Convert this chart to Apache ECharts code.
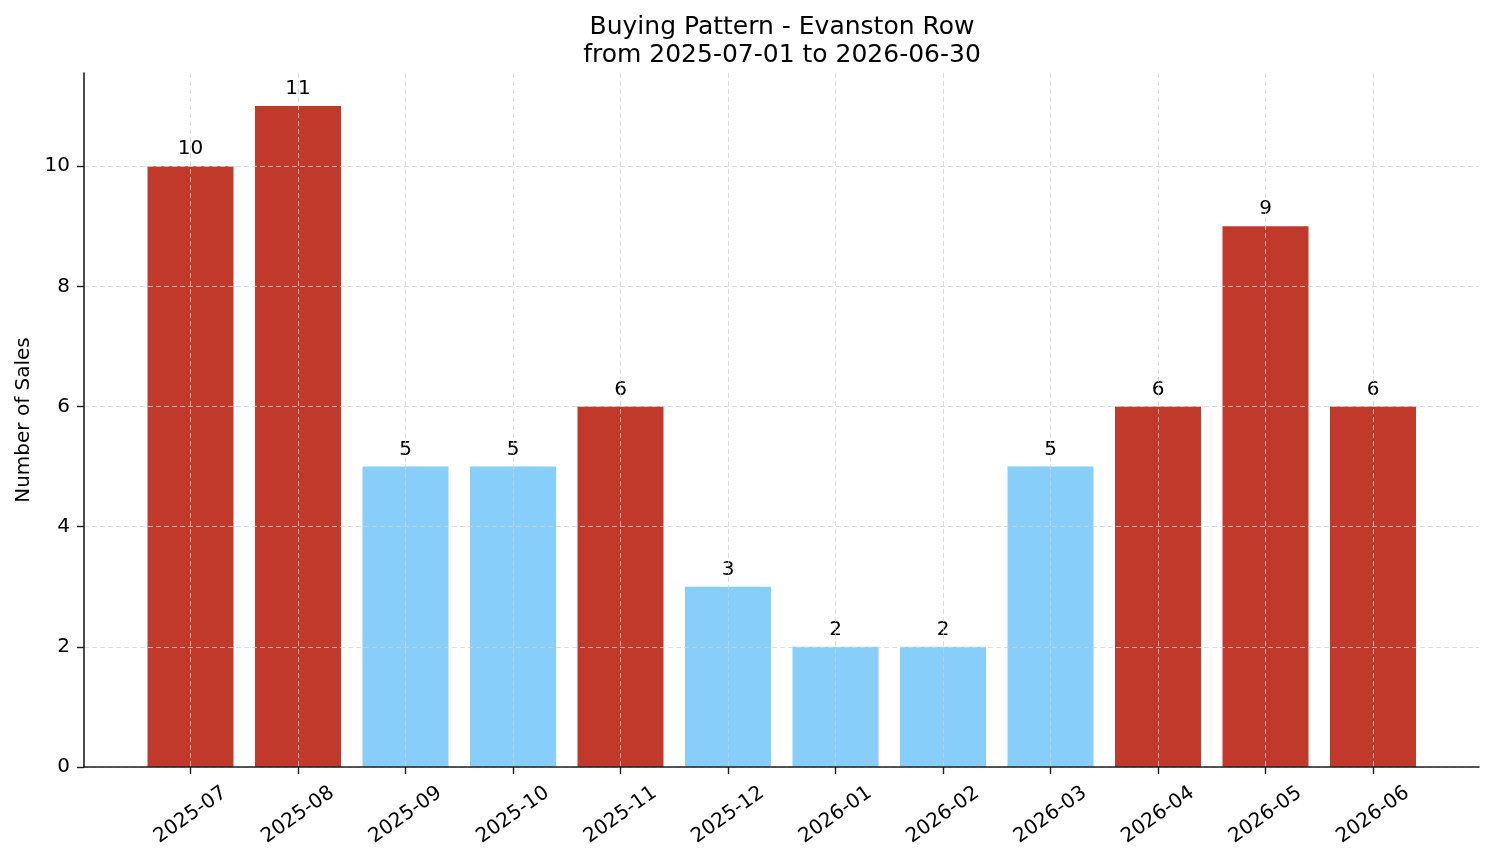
<!DOCTYPE html>
<html lang="en">
  <head>
    <meta charset="UTF-8" />
    <title>Buying Pattern - Evanston Row</title>
    <script src="https://cdn.jsdelivr.net/npm/echarts@6.0.0/dist/echarts.min.js"></script>
    <style>
      html,
      body {
        margin: 0;
        background: #fff;
      }
      #main {
        width: 1494px;
        height: 863px;
      }
    </style>
  </head>
  <body>
    <div id="main"></div>
    <script>
      const months = [
        "2025-07", "2025-08", "2025-09", "2025-10", "2025-11", "2025-12",
        "2026-01", "2026-02", "2026-03", "2026-04", "2026-05", "2026-06",
      ];
      const sales = [10, 11, 5, 5, 6, 3, 2, 2, 5, 6, 9, 6];
      const yTicks = [0, 2, 4, 6, 8, 10];
      const yMax = 11.55;

      const highColor = "#C0392B";
      const lowColor = "#87CEFA";
      const font = "DejaVu Sans";
      const axisColor = "#1f1f1f";
      const gridLine = {
        show: true,
        lineStyle: { color: "rgba(210,210,210,0.75)", width: 1, type: [5, 3] },
      };

      // bars above the average month are highlighted
      const avg = sales.reduce((a, b) => a + b, 0) / sales.length;

      const chart = echarts.init(document.getElementById("main"));
      chart.setOption({
        animation: false,
        textStyle: { fontFamily: font },
        title: {
          text: "Buying Pattern - Evanston Row\nfrom 2025-07-01 to 2026-06-30",
          left: 782,
          top: 13,
          padding: 0,
          textAlign: "center",
          textStyle: {
            fontFamily: font,
            fontSize: 25,
            fontWeight: "normal",
            lineHeight: 28,
            color: "#000",
          },
        },
        grid: [
          { left: 84, right: 15, top: 73, bottom: 96 },
          { left: 190.5, right: 121, top: 73, bottom: 96 },
        ],
        xAxis: [
          {
            gridIndex: 0,
            type: "value",
            min: 0,
            max: 1,
            z: 4,
            axisLine: { show: true, lineStyle: { color: axisColor, width: 1.6 } },
            axisTick: { show: false },
            axisLabel: { show: false },
            splitLine: { show: false },
          },
          {
            gridIndex: 1,
            type: "category",
            data: months,
            boundaryGap: false,
            z: 3,
            axisLine: { show: false },
            axisTick: {
              show: true,
              length: 7,
              interval: 0,
              lineStyle: { color: axisColor, width: 1.4 },
            },
            axisLabel: {
              interval: 0,
              rotate: 35,
              align: "center",
              verticalAlign: "middle",
              margin: 48,
              fontSize: 20,
              color: "#000",
              fontFamily: font,
            },
            splitLine: Object.assign({ interval: 0 }, gridLine),
          },
        ],
        yAxis: [
          {
            gridIndex: 0,
            type: "value",
            min: 0,
            max: yMax,
            z: 3,
            name: "Number of Sales",
            nameLocation: "middle",
            nameGap: 50,
            nameTextStyle: { fontSize: 20, color: "#000", fontFamily: font },
            axisLine: { show: true, lineStyle: { color: axisColor, width: 1.6 } },
            axisTick: {
              show: true,
              length: 7,
              customValues: yTicks,
              lineStyle: { color: axisColor, width: 1.4 },
            },
            axisLabel: {
              customValues: yTicks,
              margin: 14,
              fontSize: 20,
              color: "#000",
              fontFamily: font,
            },
            splitLine: gridLine,
          },
          {
            gridIndex: 1,
            type: "value",
            min: 0,
            max: yMax,
            show: false,
          },
        ],
        series: [
          {
            type: "bar",
            xAxisIndex: 1,
            yAxisIndex: 1,
            barWidth: 86,
            clip: false,
            data: sales.map((v) => ({
              value: v,
              itemStyle: { color: v > avg ? highColor : lowColor },
            })),
            label: {
              show: true,
              position: "top",
              distance: 7,
              fontSize: 20,
              color: "#000",
              fontFamily: font,
            },
          },
        ],
      });
    </script>
  </body>
</html>
